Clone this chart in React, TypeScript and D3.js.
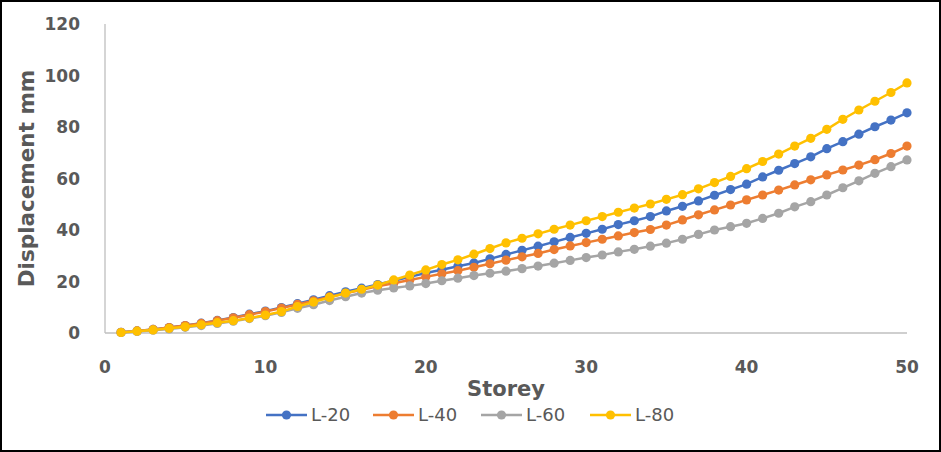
import React from "react";
import * as d3 from "d3";

const storeys = d3.range(1, 51);

const L20 = [0.3, 0.8, 1.4, 2.1, 2.9, 3.8, 4.9, 6.0, 7.3, 8.5, 9.9, 11.4, 12.9, 14.5, 16.0, 17.4, 18.8, 20.3, 21.8, 23.3, 24.6, 25.9, 27.2, 28.8, 30.5, 32.1, 33.7, 35.4, 37.1, 38.7, 40.3, 42.1, 43.6, 45.2, 47.4, 49.2, 51.3, 53.5, 55.7, 57.8, 60.6, 63.2, 65.8, 68.4, 71.6, 74.3, 77.2, 80.1, 82.7, 85.5];
const L40 = [0.3, 0.8, 1.4, 2.1, 2.9, 3.7, 4.8, 5.9, 7.1, 8.3, 9.7, 11.1, 12.5, 14.0, 15.4, 16.8, 18.1, 19.3, 20.6, 21.8, 23.0, 24.2, 25.5, 26.9, 28.3, 29.6, 30.9, 32.4, 33.8, 35.1, 36.4, 37.7, 39.0, 40.2, 41.9, 43.9, 45.9, 47.8, 49.7, 51.7, 53.6, 55.5, 57.5, 59.5, 61.4, 63.3, 65.2, 67.3, 69.7, 72.6];
const L60 = [0.2, 0.6, 1.1, 1.6, 2.2, 2.9, 3.7, 4.6, 5.6, 6.7, 8.0, 9.6, 11.0, 12.6, 14.1, 15.5, 16.6, 17.5, 18.3, 19.2, 20.3, 21.3, 22.3, 23.2, 24.0, 25.0, 26.0, 27.1, 28.2, 29.3, 30.3, 31.5, 32.5, 33.7, 34.9, 36.4, 38.3, 40.0, 41.3, 42.6, 44.5, 46.5, 49.0, 51.0, 53.6, 56.4, 59.1, 62.0, 64.6, 67.2];
const L80 = [0.2, 0.7, 1.2, 1.8, 2.4, 3.2, 4.0, 4.8, 5.8, 7.0, 8.3, 10.3, 12.0, 13.8, 15.5, 17.0, 18.6, 20.6, 22.5, 24.5, 26.6, 28.4, 30.6, 32.8, 35.0, 36.8, 38.5, 40.3, 41.9, 43.6, 45.2, 46.9, 48.5, 50.1, 51.9, 53.7, 56.0, 58.4, 60.8, 63.8, 66.6, 69.5, 72.6, 75.6, 79.1, 83.0, 86.6, 90.0, 93.4, 97.1];

const seriesNames = ["L-20", "L-40", "L-60", "L-80"];
const seriesValues = [L20, L40, L60, L80];
const seriesColors = ["#4472C4", "#ED7D31", "#A5A5A5", "#FFC000"];

const xTicks = [0, 10, 20, 30, 40, 50];
const yTicks = [0, 20, 40, 60, 80, 100, 120];

const W = 941;
const H = 452;
const FONT = "'DejaVu Sans', sans-serif";
const TXT = "#595959";

export default function App() {
  const x = d3.scaleLinear().domain([0, 50]).range([105, 907]);
  const y = d3.scaleLinear().domain([0, 120]).range([333, 24]);
  const line = d3
    .line<[number, number]>()
    .x((d) => x(d[0]))
    .y((d) => y(d[1]));

  const legendX = [266, 373, 481, 590];
  const legendY = 415;

  return (
    <svg
      width={W}
      height={H}
      style={{ position: "absolute", left: 0, top: 0, background: "#fff" }}
    >
      <rect x={0} y={0} width={W} height={H} fill="#fff" />
      {/* axes */}
      <line x1={x(0)} x2={x(0)} y1={y(120)} y2={y(0)} stroke="#BFBFBF" strokeWidth={1.3} />
      <line x1={x(0)} x2={x(50)} y1={y(0)} y2={y(0)} stroke="#BFBFBF" strokeWidth={1.3} />

      {yTicks.map((t) => (
        <text
          key={"y" + t}
          x={80}
          y={y(t)}
          dy="0.36em"
          textAnchor="end"
          fontFamily={FONT}
          fontWeight="bold"
          fontSize={17}
          fill={TXT}
        >
          {t}
        </text>
      ))}
      {xTicks.map((t) => (
        <text
          key={"x" + t}
          x={x(t)}
          y={367}
          dy="0.36em"
          textAnchor="middle"
          fontFamily={FONT}
          fontWeight="bold"
          fontSize={17}
          fill={TXT}
        >
          {t}
        </text>
      ))}

      <text
        x={(x(0) + x(50)) / 2}
        y={388}
        dy="0.36em"
        textAnchor="middle"
        fontFamily={FONT}
        fontWeight="bold"
        fontSize={21}
        fill={TXT}
      >
        Storey
      </text>
      <text
        transform={`translate(26,${(y(0) + y(120)) / 2}) rotate(-90)`}
        dy="0.36em"
        textAnchor="middle"
        fontFamily={FONT}
        fontWeight="bold"
        fontSize={21.5}
        fill={TXT}
      >
        Displacement mm
      </text>

      {seriesValues.map((vals, i) => {
        const pts: [number, number][] = storeys.map((s, j) => [s, vals[j]]);
        return (
          <g key={seriesNames[i]}>
            <path d={line(pts) || ""} fill="none" stroke={seriesColors[i]} strokeWidth={2.5} />
            {pts.map((p, j) => (
              <circle key={j} cx={x(p[0])} cy={y(p[1])} r={4.6} fill={seriesColors[i]} />
            ))}
          </g>
        );
      })}

      {seriesNames.map((n, i) => (
        <g key={"lg" + n}>
          <line
            x1={legendX[i]}
            x2={legendX[i] + 41}
            y1={legendY}
            y2={legendY}
            stroke={seriesColors[i]}
            strokeWidth={2.5}
          />
          <circle cx={legendX[i] + 20.5} cy={legendY} r={4.6} fill={seriesColors[i]} />
          <text
            x={legendX[i] + 45}
            y={legendY}
            dy="0.36em"
            fontFamily={FONT}
            fontSize={18}
            fill={TXT}
          >
            {n}
          </text>
        </g>
      ))}

      <rect x={1} y={1} width={W - 2} height={H - 2} fill="none" stroke="#000" strokeWidth={2} />
    </svg>
  );
}
